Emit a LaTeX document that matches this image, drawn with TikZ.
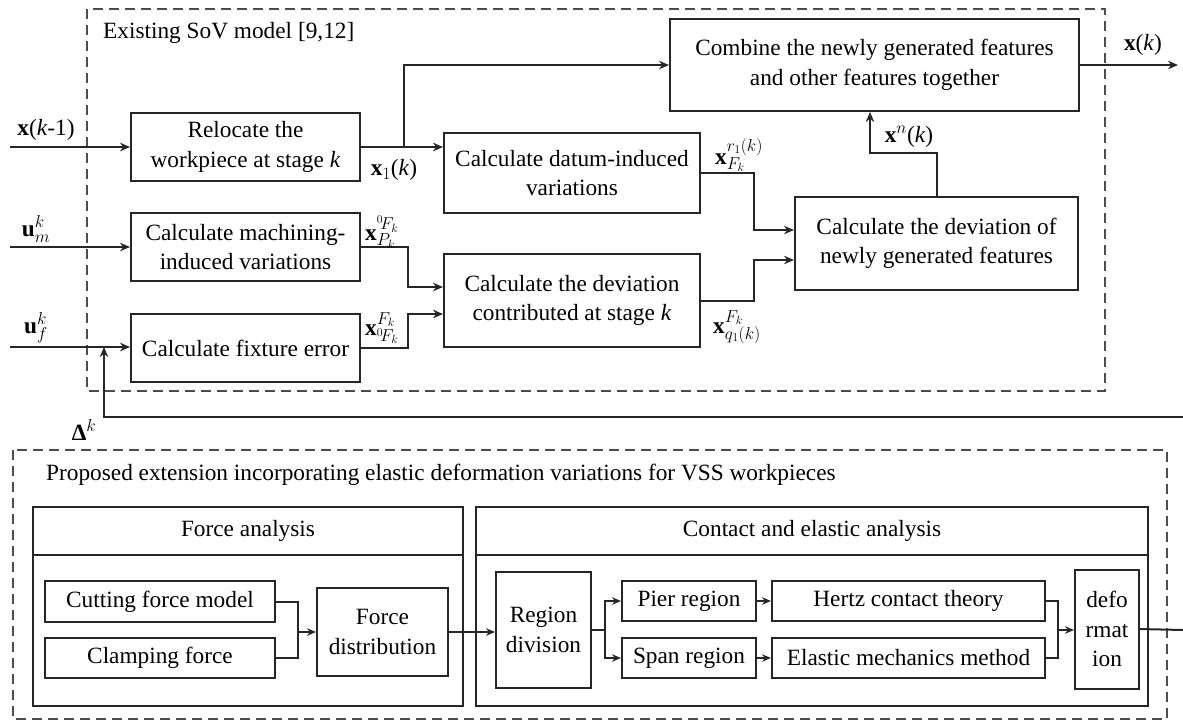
\documentclass[tikz,border=0pt]{standalone}
\usepackage{fontspec}
\setmainfont{Liberation Serif}
\usepackage{tikz}
\usetikzlibrary{arrows.meta,positioning}

\tikzset{
  blk/.style={draw=black!85,line width=2pt,align=center,inner sep=0pt},
  panel/.style={draw=black!85,line width=2pt},
  frame/.style={draw=black!70,line width=1.6pt,dash pattern=on 10pt off 6pt},
  lbl/.style={inner sep=0pt}
}

\begin{document}
\begin{tikzpicture}[x=1pt,y=-1pt,
    font={\fontsize{23.3}{29.5}\selectfont},
    >={Stealth[length=10pt,width=8.5pt]}]
\useasboundingbox (0,0) rectangle (1183,721);

% existing model
\draw[frame] (87,9) rectangle (1105,391);
\node[lbl,anchor=west] (exist) at (103,33) {Existing SoV model [9,12]};

\begin{scope}[every node/.style={blk}]
  \node (reloc) at (245.5,147) [minimum width=229pt,minimum height=68pt] {Relocate the\\workpiece at stage \textit{k}};
  \node (mach) at (245.5,247) [minimum width=229pt,minimum height=68pt] {Calculate machining-\\induced variations};
  \node (fix) at (245.5,348) [minimum width=229pt,minimum height=68pt] {Calculate fixture error};
  \node (datum) at (572,173) [minimum width=256pt,minimum height=80pt] {Calculate datum-induced\\variations};
  \node (dev) at (572,300.5) [minimum width=256pt,minimum height=93pt] {Calculate the deviation\\contributed at stage \textit{k}};
  \node (comb) at (874.5,65) [minimum width=409pt,minimum height=92pt] {Combine the newly generated features\\and other features together};
  \node (newf) at (936.5,243.5) [minimum width=283pt,minimum height=93pt] {Calculate the deviation of\\newly generated features};
\end{scope}

\coordinate (in1) at (10,147);
\coordinate (in2) at (10,247);
\coordinate (in3) at (10,347);
\coordinate (out) at (1178,65);
\coordinate (xb) at (404,147);
\coordinate (mj) at (408,287);
\coordinate (fj) at (408,314);
\coordinate (dj) at (754,230);
\coordinate (vj) at (754,260);
\coordinate (nj) at (870,153);
\coordinate (fbr) at (1183,417);
\coordinate (fbj) at (104,417);

\begin{scope}[line width=2pt,draw=black!85]
  \draw[->] (in1) -- (reloc.west);
  \draw[->] (in2) -- (mach.west);
  \draw[->] (in3) -- (in3 -| fix.west);
  \draw[->] (reloc.east) -- (reloc.east -| datum.west);
  \draw[->] (xb) |- (comb.west);
  \draw[->] (mach.east) -| (mj) -- (mj -| dev.west);
  \draw[->] (fix.east) -| (fj) -- (fj -| dev.west);
  \draw[->] (datum.east) -| (dj) -- (dj -| newf.west);
  \draw[->] (dev.east) -| (vj) -- (vj -| newf.west);
  \draw[->] (newf.north) |- (nj) -- (nj |- comb.south);
  \draw[->] (comb.east) -- (out);
  \draw[->] (fbr) -- (fbj) -- (fbj |- in3);
\end{scope}

\begin{scope}[every node/.style={lbl}]
  \node (lxk1) at (46,130) {$\mathbf{x}$(\textit{k}-1)};
  \node (lum) at (36,229) {$\mathbf{u}_m^k$};
  \node (luf) at (36,328) {$\mathbf{u}_f^k$};
  \node (ldel) at (84,430) {{\bfseries Δ}$^k$};
  \node (lx1) at (394,170) {$\mathbf{x}_1$(\textit{k})};
  \node (lxp) at (382,232) {$\mathbf{x}^{{}^0\!F_k}_{P_k}$};
  \node (lxf) at (382,328) {$\mathbf{x}^{F_k}_{{}^0\!F_k}$};
  \node (lxr) at (739,155) {$\mathbf{x}^{r_1(k)}_{F_k}$};
  \node (lxq) at (737,327) {$\mathbf{x}^{F_k}_{q_1(k)}$};
  \node (lxn) at (909,137) {$\mathbf{x}^n$(\textit{k})};
  \node (lxk) at (1143,45) {$\mathbf{x}$(\textit{k})};
\end{scope}

% proposed extension
\draw[frame] (13,450) rectangle (1167,719);
\node[lbl,anchor=west] (prop) at (46,475) {Proposed extension incorporating elastic deformation variations for VSS workpieces};

\draw[panel] (33,507) rectangle (463,706);
\draw[panel] (33,555) -- (463,555);
\node[lbl] (forceh) at (248,531) {Force analysis};
\draw[panel] (476,507) rectangle (1148,706);
\draw[panel] (476,555) -- (1148,555);
\node[lbl] (conth) at (812,531) {Contact and elastic analysis};

\begin{scope}[every node/.style={blk}]
  \node (cut) at (160,601.5) [minimum width=230pt,minimum height=41pt] {Cutting force model};
  \node (clamp) at (160,658) [minimum width=230pt,minimum height=40pt] {Clamping force};
  \node (fdist) at (382.5,632) [minimum width=131pt,minimum height=88pt] {Force\\distribution};
  \node (region) at (543.5,630) [minimum width=95pt,minimum height=116pt] {Region\\division};
  \node (pier) at (689,601) [minimum width=134pt,minimum height=40pt] {Pier region};
  \node (span) at (689,658) [minimum width=134pt,minimum height=40pt] {Span region};
  \node (hertz) at (908.5,601) [minimum width=273pt,minimum height=40pt] {Hertz contact theory};
  \node (elast) at (908.5,658) [minimum width=273pt,minimum height=40pt] {Elastic mechanics method};
  \node (deform) at (1107,629) [minimum width=64pt,minimum height=119pt] {defo\\rmat\\ion};
\end{scope}

\coordinate (cj) at (298,632);
\coordinate (rj) at (605,630);
\coordinate (hj) at (1058,630);
\coordinate (dout) at (1183,630);

\begin{scope}[line width=2pt,draw=black!85,>={Stealth[length=9pt,width=7.5pt]}]
  \draw (cut.east) -| (cj);
  \draw (clamp.east) -| (cj);
  \draw[->] (cj) -- (cj -| fdist.west);
  \draw[->] (fdist.east) -- (fdist.east -| region.west);
  \draw (region.east) -- (rj);
  \draw[->] (rj) |- (pier.west);
  \draw[->] (rj) |- (span.west);
  \draw[->] (pier.east) -- (hertz.west);
  \draw[->] (span.east) -- (elast.west);
  \draw (hertz.east) -| (hj);
  \draw (elast.east) -| (hj);
  \draw[->] (hj) -- (hj -| deform.west);
  \draw (deform.east) -- (dout);
\end{scope}
\end{tikzpicture}
\end{document}
